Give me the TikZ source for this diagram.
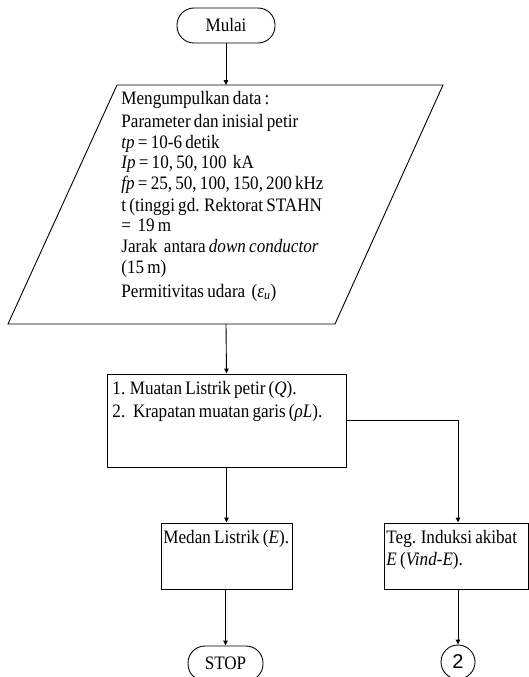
\documentclass[tikz,border=0pt]{standalone}
\usepackage{fontspec}
\setmainfont{Liberation Serif}[FakeStretch=0.9,WordSpace=0.75]
\newfontfamily\sansf{Liberation Sans}
\usetikzlibrary{arrows.meta}
\begin{document}
\begin{tikzpicture}[x=1pt,y=-1pt,
  line width=0.9pt,
  arr/.style={-{Triangle[length=5pt,width=4.5pt]}},
  txt/.style={anchor=base west,inner sep=0pt,font=\fontsize{19}{22}\selectfont},
  term/.style={draw,rounded corners=17pt,minimum height=35pt,inner sep=0pt,font=\fontsize{19}{22}\selectfont},
  procbox/.style={draw,inner sep=0pt}]
\useasboundingbox (0,0) rectangle (529,677);
% start
\node[term,minimum width=98pt] (mulai) at (226,25.5) {Mulai};
% parallelogram
\coordinate (ptl) at (117,85);
\coordinate (ptr) at (443,85);
\coordinate (pbr) at (335,324);
\coordinate (pbl) at (8,324);
\coordinate (pin) at (226,85);
\coordinate (pout) at (226,324);
\draw (ptl) -- (ptr) -- (pbr) -- (pbl) -- cycle;
\node[txt] (l1) at (121,104) {Mengumpulkan data :};
\node[txt] (l2) at (121,127) {Parameter dan inisial petir};
\node[txt] (l3) at (121,148) {\textit{tp} = 10-6 detik};
\node[txt] (l4) at (121,168.5) {\textit{Ip} = 10, 50, 100 \ kA};
\node[txt] (l5) at (121,189.5) {\textit{fp} = 25, 50, 100, 150, 200 kHz};
\node[txt] (l6) at (121,211) {t (tinggi gd. Rektorat STAHN};
\node[txt] (l7) at (121,231.5) {= \ 19 m};
\node[txt] (l8) at (121,252.5) {Jarak \ antara \textit{down conductor}};
\node[txt] (l9) at (121,273.5) {(15 m)};
\node[txt] (l10) at (121,297) {Permitivitas udara \ (\textit{ε\textsubscript{u}})};
% process 1
\node[procbox,minimum width=239pt,minimum height=93pt] (r1) at (226.5,420.5) {};
\node[txt] (r1a) at (112,394) {1. Muatan Listrik petir (\textit{Q}).};
\node[txt] (r1b) at (112,417) {2. \ Krapatan muatan garis (\textit{ρL}).};
% medan
\node[procbox,minimum width=131pt,minimum height=66pt] (medan) at (226.5,556) {};
\node[txt] (medt) at (163,543) {Medan Listrik (\textit{E}).};
% teg
\node[procbox,minimum width=144pt,minimum height=66pt] (teg) at (456,556) {};
\node[txt] (tega) at (386,543) {Teg. Induksi akibat};
\node[txt] (tegb) at (386,565.5) {\textit{E} (\textit{Vind-E}).};
% ends
\node[term,minimum width=75pt] (stop) at (225.5,663.5) {STOP};
\node[draw,circle,minimum size=34pt,inner sep=0pt,font=\sansf\fontsize{20}{22}\selectfont] (c2) at (458,662) {2};
% connectors
\draw[arr] (mulai.south) -- (pin);
\draw[arr] (pout) -- (r1.north);
\draw[arr] (r1.south) -- (medan.north);
\draw[arr] (r1.east) -| (teg.north -| c2.north);
\draw[arr] (medan.south -| stop.north) -- (stop.north);
\draw[arr] (teg.south -| c2.north) -- (c2.north);
\end{tikzpicture}
\end{document}
